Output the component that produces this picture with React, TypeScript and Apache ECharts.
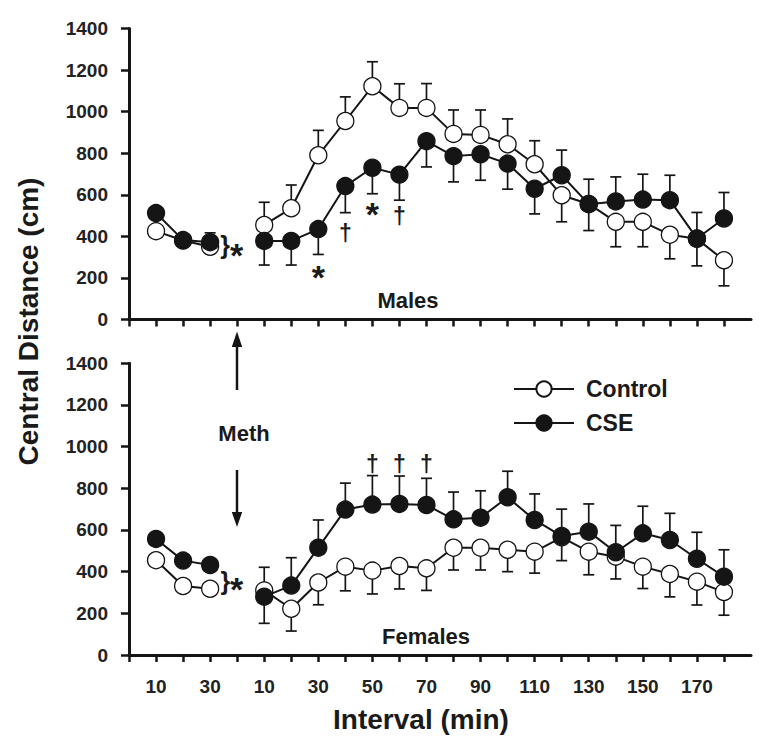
import React, { useEffect, useRef } from "react";
import * as echarts from "echarts";

const FONT = '"Liberation Sans", Arial, Helvetica, sans-serif';
const INK = "#151515";

// x positions: baseline 1..3, Meth injection at 4, post-injection 5..22
const basePos = [1, 2, 3];
const postPos = [5, 6, 7, 8, 9, 10, 11, 12, 13, 14, 15, 16, 17, 18, 19, 20, 21, 22];
const xTickPositions = [0, 1, 2, 3, 4, 5, 6, 7, 8, 9, 10, 11, 12, 13, 14, 15, 16, 17, 18, 19, 20, 21, 22];
const xLabelPositions = [1, 3, 5, 7, 9, 11, 13, 15, 17, 19, 21];
const xLabelTexts = ["10", "30", "10", "30", "50", "70", "90", "110", "130", "150", "170"];
const yTicks = [0, 200, 400, 600, 800, 1000, 1200, 1400];

// Males
const maleCtrlBase = [425, 380, 350];
const maleCtrlPost = [455, 535, 790, 955, 1122, 1018, 1018, 893, 888, 843, 747, 598, 556, 470, 470, 408, 388, 285];
const maleCtrlBaseUp = [0, 0, 0];
const maleCtrlBaseDn = [25, 25, 32];
const maleCtrlPostUp = [109, 112, 120, 116, 118, 116, 117, 115, 120, 122, 113, 0, 0, 0, 0, 0, 0, 0];
const maleCtrlPostDn = [0, 0, 0, 0, 0, 0, 0, 0, 0, 0, 0, 128, 128, 120, 120, 116, 130, 123];

const maleCseBase = [512, 382, 372];
const maleCsePost = [378, 378, 435, 642, 730, 697, 858, 786, 795, 750, 629, 694, 555, 568, 577, 574, 390, 486];
const maleCseBaseUp = [30, 30, 45];
const maleCseBaseDn = [0, 0, 0];
const maleCsePostUp = [0, 0, 0, 0, 0, 0, 0, 0, 0, 0, 0, 121, 120, 118, 122, 120, 125, 125];
const maleCsePostDn = [116, 116, 122, 128, 125, 123, 124, 124, 125, 123, 121, 0, 0, 0, 0, 0, 0, 0];

// Females
const femCtrlBase = [455, 331, 318];
const femCtrlPost = [310, 222, 348, 424, 405, 427, 416, 515, 515, 505, 496, 565, 496, 472, 424, 389, 352, 302];
const femCtrlBaseUp = [0, 0, 0];
const femCtrlBaseDn = [0, 0, 0];
const femCtrlPostUp = [111, 0, 0, 0, 0, 0, 0, 0, 0, 0, 0, 0, 0, 0, 0, 0, 0, 0];
const femCtrlPostDn = [0, 107, 107, 116, 112, 110, 106, 107, 107, 105, 103, 112, 111, 107, 105, 110, 112, 111];

const femCseBase = [557, 453, 432];
const femCsePost = [280, 333, 515, 698, 722, 725, 720, 651, 659, 757, 648, 571, 592, 493, 584, 552, 462, 376];
const femCseBaseUp = [0, 0, 0];
const femCseBaseDn = [0, 0, 0];
const femCsePostUp = [0, 134, 133, 127, 139, 134, 128, 131, 129, 125, 125, 129, 133, 129, 130, 128, 127, 129];
const femCsePostDn = [128, 0, 0, 0, 0, 0, 0, 0, 0, 0, 0, 0, 0, 0, 0, 0, 0, 0];

// significance marks (data coordinates)
const maleNotes = [
  { x: 3.55, y: 349, text: "}" },
  { x: 3.98, y: 351, text: "*" },
  { x: 7, y: 242, text: "*" },
  { x: 8, y: 416, text: "†" },
  { x: 9, y: 546, text: "*" },
  { x: 10, y: 498, text: "†" },
];
const femNotes = [
  { x: 3.56, y: 344, text: "}" },
  { x: 3.98, y: 356, text: "*" },
  { x: 9, y: 917, text: "†" },
  { x: 10, y: 917, text: "†" },
  { x: 11, y: 917, text: "†" },
];

const glyphStyle: Record<string, { fontSize: number; dy: number }> = {
  "*": { fontSize: 34, dy: 8 },
  "†": { fontSize: 23, dy: 0 },
  "}": { fontSize: 25, dy: -2 },
};

function lineData(base: number[], post: number[]) {
  const d: any[] = base.map((v, i) => [basePos[i], v]);
  d.push([4, "-"]);
  post.forEach((v, i) => d.push([postPos[i], v]));
  return d;
}

function errData(base: number[], post: number[], bUp: number[], bDn: number[], pUp: number[], pDn: number[]) {
  const d: any[] = base.map((v, i) => [basePos[i], v, bDn[i], bUp[i]]);
  post.forEach((v, i) => d.push([postPos[i], v, pDn[i], pUp[i]]));
  return d;
}

function renderErr(params: any, api: any) {
  const x = api.value(0);
  const y = api.value(1);
  const dn = api.value(2);
  const up = api.value(3);
  if (!(up > 0) && !(dn > 0)) return { type: "group", children: [] };
  const top = api.coord([x, y + up]);
  const bot = api.coord([x, y - dn]);
  const st = { stroke: INK, lineWidth: 1.7 };
  const children: any[] = [
    { type: "line", shape: { x1: top[0], y1: top[1], x2: bot[0], y2: bot[1] }, style: st },
  ];
  if (up > 0) children.push({ type: "line", shape: { x1: top[0] - 5.5, y1: top[1], x2: top[0] + 5.5, y2: top[1] }, style: st });
  if (dn > 0) children.push({ type: "line", shape: { x1: bot[0] - 5.5, y1: bot[1], x2: bot[0] + 5.5, y2: bot[1] }, style: st });
  return { type: "group", children };
}

function xAxis(gridIndex: number, showLabels: boolean) {
  return {
    type: "value",
    gridIndex,
    min: 0,
    max: 23,
    interval: 1,
    axisLine: { show: true, onZero: false, lineStyle: { color: INK, width: 3 } },
    axisTick: { show: true, customValues: xTickPositions, length: 7, lineStyle: { color: INK, width: 2.5 } },
    axisLabel: {
      show: showLabels,
      customValues: xLabelPositions,
      margin: 22,
      fontFamily: FONT,
      fontWeight: "bold",
      fontSize: 19,
      color: "#222",
      formatter: (v: number) => {
        const i = xLabelPositions.indexOf(v);
        return i >= 0 ? xLabelTexts[i] : "";
      },
    },
    splitLine: { show: false },
  };
}

function yAxis(gridIndex: number) {
  return {
    type: "value",
    gridIndex,
    min: yTicks[0],
    max: yTicks[yTicks.length - 1],
    interval: 200,
    axisLine: { show: true, onZero: false, lineStyle: { color: INK, width: 3 } },
    axisTick: { show: true, length: 8, lineStyle: { color: INK, width: 2.5 } },
    axisLabel: {
      margin: 21,
      fontFamily: FONT,
      fontWeight: "bold",
      fontSize: 19,
      color: "#222",
      formatter: (v: number) => String(v),
    },
    splitLine: { show: false },
  };
}

function ctrlSeries(idx: number, base: number[], post: number[]) {
  return {
    type: "line",
    name: "Control",
    xAxisIndex: idx,
    yAxisIndex: idx,
    z: 3,
    data: lineData(base, post),
    connectNulls: false,
    symbol: "circle",
    symbolSize: 17,
    lineStyle: { color: INK, width: 2 },
    itemStyle: { color: "#ffffff", borderColor: INK, borderWidth: 1.3 },
    silent: true,
  };
}

function cseSeries(idx: number, base: number[], post: number[]) {
  return {
    type: "line",
    name: "CSE",
    xAxisIndex: idx,
    yAxisIndex: idx,
    z: 4,
    data: lineData(base, post),
    connectNulls: false,
    symbol: "circle",
    symbolSize: 17,
    lineStyle: { color: INK, width: 2 },
    itemStyle: { color: INK, borderColor: INK, borderWidth: 1.3 },
    silent: true,
  };
}

function errSeries(idx: number, data: any[]) {
  return {
    type: "custom",
    name: "err" + idx,
    xAxisIndex: idx,
    yAxisIndex: idx,
    z: 1,
    silent: true,
    renderItem: renderErr,
    encode: { x: 0, y: 1 },
    data,
  };
}

function txt(text: string, x: number, y: number, size: number, rotation = 0) {
  return {
    type: "text",
    x,
    y,
    rotation,
    silent: true,
    z: 10,
    style: {
      text,
      fontFamily: FONT,
      fontWeight: "bold",
      fontSize: size,
      fill: "#1a1a1a",
      align: "center",
      verticalAlign: "middle",
    },
  };
}

export default function App() {
  const ref = useRef<HTMLDivElement>(null);
  useEffect(() => {
    if (!ref.current) return;
    const chart = echarts.init(ref.current, undefined, { renderer: "svg" });
    chart.setOption({
      animation: false,
      backgroundColor: "#ffffff",
      grid: [
        { left: 129, top: 28.5, width: 622, height: 291 },
        { left: 129, top: 363.3, width: 622, height: 291.7 },
      ],
      xAxis: [xAxis(0, false), xAxis(1, true)],
      yAxis: [yAxis(0), yAxis(1)],
      legend: {
        data: ["Control", "CSE"],
        orient: "vertical",
        left: 513,
        top: 377.5,
        padding: 0,
        itemWidth: 60,
        itemHeight: 19,
        itemGap: 11,
        selectedMode: false,
        textStyle: { fontFamily: FONT, fontWeight: "bold", fontSize: 23, color: "#1a1a1a", padding: [0, 0, 0, 7] },
      },
      series: [
        errSeries(0, errData(maleCtrlBase, maleCtrlPost, maleCtrlBaseUp, maleCtrlBaseDn, maleCtrlPostUp, maleCtrlPostDn)),
        errSeries(0, errData(maleCseBase, maleCsePost, maleCseBaseUp, maleCseBaseDn, maleCsePostUp, maleCsePostDn)),
        ctrlSeries(0, maleCtrlBase, maleCtrlPost),
        cseSeries(0, maleCseBase, maleCsePost),
        errSeries(1, errData(femCtrlBase, femCtrlPost, femCtrlBaseUp, femCtrlBaseDn, femCtrlPostUp, femCtrlPostDn)),
        errSeries(1, errData(femCseBase, femCsePost, femCseBaseUp, femCseBaseDn, femCsePostUp, femCsePostDn)),
        ctrlSeries(1, femCtrlBase, femCtrlPost),
        cseSeries(1, femCseBase, femCsePost),
      ],
    });

    const notes: any[] = [];
    [maleNotes, femNotes].forEach((list, gi) => {
      list.forEach((n) => {
        const p = chart.convertToPixel({ gridIndex: gi }, [n.x, n.y]) as number[];
        const g = glyphStyle[n.text];
        notes.push(txt(n.text, p[0], p[1] + g.dy, g.fontSize));
      });
    });

    chart.setOption({
      graphic: [
        txt("Central Distance (cm)", 28, 321.5, 28, Math.PI / 2),
        txt("Interval (min)", 421, 719, 28),
        txt("Males", 408, 300, 22),
        txt("Females", 426, 636, 22),
        txt("Meth", 244, 433, 22),
        { type: "line", silent: true, shape: { x1: 237, y1: 344, x2: 237, y2: 390 }, style: { stroke: INK, lineWidth: 2.5 } },
        { type: "polygon", silent: true, shape: { points: [[237, 331.5], [231.8, 347], [242.2, 347]] }, style: { fill: INK } },
        { type: "line", silent: true, shape: { x1: 237, y1: 470, x2: 237, y2: 515 }, style: { stroke: INK, lineWidth: 2.5 } },
        { type: "polygon", silent: true, shape: { points: [[237, 527], [231.8, 512], [242.2, 512]] }, style: { fill: INK } },
        ...notes,
      ],
    });
    return () => chart.dispose();
  }, []);
  return <div ref={ref} style={{ position: "fixed", left: 0, top: 0, width: 766, height: 744, background: "#fff" }} />;
}
